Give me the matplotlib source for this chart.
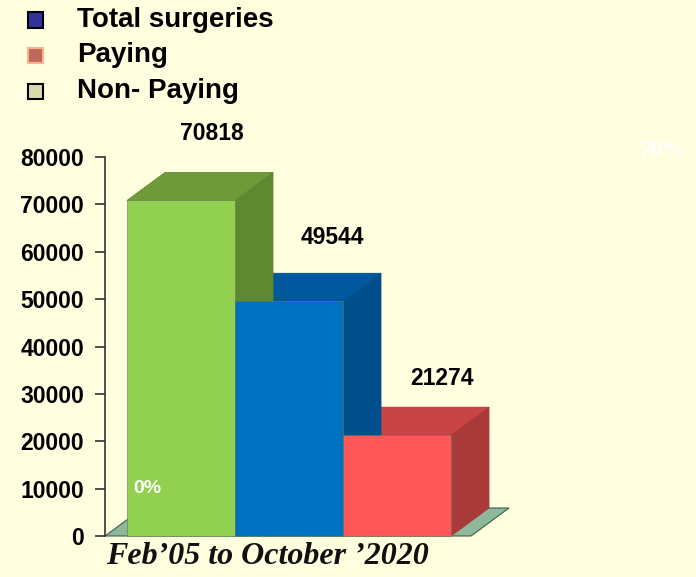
import matplotlib
matplotlib.use("Agg")
import matplotlib.pyplot as plt
from matplotlib.patches import Polygon, Rectangle

# ---- data ----
categories = ["Non- Paying", "Total surgeries", "Paying"]
values = [70818, 49544, 21274]
value_labels = ["70818", "49544", "21274"]
legend_labels = ["Total surgeries", "Paying", "Non- Paying"]
yticks = [0, 10000, 20000, 30000, 40000, 50000, 60000, 70000, 80000]
xlabel = "Feb\u201905 to October \u20192020"

front_cols = ["#92D050", "#0070C0", "#FF5757"]
top_cols = ["#6F9A37", "#00599E", "#C94545"]
side_cols = ["#5E8930", "#004E8C", "#A93A3A"]
legend_cols = ["#333399", "#C0675F", "#DADAB0"]
legend_edges = ["#000000", "#F7B58A", "#000000"]
bg = "#FFFFE0"

W, H = 696, 577
fig = plt.figure(figsize=(W / 100, H / 100), dpi=100, facecolor=bg)

# axes geometry in pixels
ax_l, ax_r = 105, 520
y0_px, y80_px = 536, 157
ax = fig.add_axes([ax_l / W, (H - y0_px) / H, (ax_r - ax_l) / W, (y0_px - y80_px) / H])
ax.set_facecolor("none")

bar_px = 108.0
first_left_px = 127
xmin = -0.5 - (first_left_px - ax_l) / bar_px
xmax = xmin + (ax_r - ax_l) / bar_px
ax.set_xlim(xmin, xmax)
ax.set_ylim(0, 80000)

ypp = 80000 / (y0_px - y80_px)  # data per pixel (y)
ddx = 38 / bar_px
ddy = 28 * ypp

# floor slab
floor_l, floor_r = xmin, 2.5 + 20 / bar_px
floor = Polygon([(floor_l, 0), (floor_r, 0), (floor_r + ddx, ddy), (floor_l + ddx, ddy)],
                closed=True, facecolor="#8DB89A", edgecolor="#3E5E4A", lw=0.8,
                clip_on=False, zorder=1)
ax.add_patch(floor)

xs = list(range(len(values)))
for i in reversed(xs):
    v = values[i]
    l, r = i - 0.5, i + 0.5
    side = Polygon([(r, 0), (r + ddx, ddy), (r + ddx, v + ddy), (r, v)], closed=True,
                   facecolor=side_cols[i], edgecolor=side_cols[i], lw=0.6,
                   clip_on=False, zorder=2 + (2 - i))
    top = Polygon([(l, v), (r, v), (r + ddx, v + ddy), (l + ddx, v + ddy)], closed=True,
                  facecolor=top_cols[i], edgecolor=side_cols[i], lw=0.6,
                  clip_on=False, zorder=2 + (2 - i))
    ax.add_patch(side)
    ax.add_patch(top)
bars = ax.bar(xs, values, width=1.0, color=front_cols, edgecolor="#5A7A50",
              linewidth=0.4, zorder=5)
for b in bars:
    b.set_clip_on(False)

# value labels (pixel offsets from the top-centre of each bar's front face)
lab_off_x = [31, 43, 45]
lab_off_y = [67, 64, 57]
for i, v in enumerate(values):
    ax.annotate(value_labels[i], (i, v), xytext=(lab_off_x[i], lab_off_y[i]),
                textcoords="offset pixels", ha="center", va="center", fontsize=16.5,
                fontweight="bold", family="Liberation Sans", color="black",
                annotation_clip=False, zorder=10)

ax.annotate("0%", (-0.5, 10000), xytext=(6, 0), textcoords="offset pixels",
            ha="left", va="center", fontsize=14, fontweight="bold",
            family="Liberation Sans", color="white", zorder=10)

# axes styling
for s in ["top", "right", "bottom"]:
    ax.spines[s].set_visible(False)
ax.spines["left"].set_color("#333333")
ax.spines["left"].set_linewidth(1.2)
ax.set_xticks([])
ax.set_yticks(yticks)
ax.set_yticklabels([str(t) for t in yticks], fontsize=16.5, fontweight="bold",
                   family="Liberation Sans")
ax.tick_params(axis="y", direction="out", length=7, width=1.2, color="#333333", pad=8)

fig.text(267 / W, 1 - 557 / H, xlabel, ha="center", va="center", fontsize=23,
         fontweight="bold", fontstyle="italic", family="Liberation Serif", color="#111111")

fig.text(663 / W, 1 - 150 / H, "70%", ha="center", va="center", fontsize=17,
         fontweight="bold", family="Liberation Serif", color="white")

# legend
leg_y = [20, 55, 91]
for i, lab in enumerate(legend_labels):
    sq = 15
    fig.patches.append(Rectangle(((35 - sq / 2) / W, 1 - (leg_y[i] + sq / 2) / H), sq / W, sq / H,
                                 transform=fig.transFigure, facecolor=legend_cols[i],
                                 edgecolor=legend_edges[i], lw=1.5))
    fig.text(77 / W, 1 - leg_y[i] / H, lab, ha="left", va="center", fontsize=20,
             fontweight="bold", family="Liberation Sans", color="black")

fig.savefig("out.png", dpi=100, facecolor=bg)
